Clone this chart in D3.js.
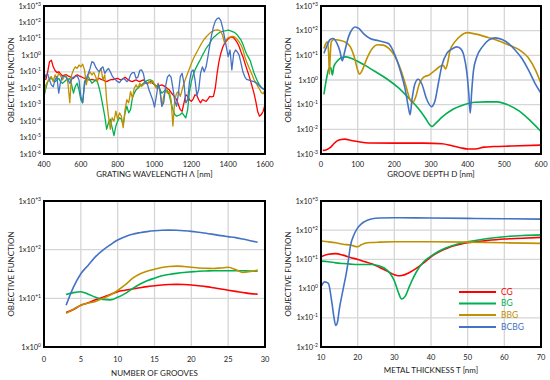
<!DOCTYPE html>
<html>
<head>
<meta charset="utf-8">
<title>Objective function vs grating parameters</title>
<script src="https://d3js.org/d3.v7.min.js"></script>
<style>
  body { margin: 0; background: #fff; }
  svg text { font-family: Lato, "Open Sans", sans-serif; fill: #222; }
</style>
</head>
<body>
<svg id="chart" width="550" height="380"></svg>
<script>
// ---- panel (a): grating wavelength, 400..1600 nm every 10 nm
var wavelength = d3.range(400, 1601, 10);
var wlCG = [0.032,0.034,0.1,0.41,0.51,0.2,0.12,0.09,0.1,0.075,
  0.057,0.062,0.068,0.057,0.051,0.045,0.04,0.057,0.065,0.057,
  0.051,0.045,0.04,0.034,0.032,0.032,0.034,0.032,0.029,0.034,
  0.04,0.034,0.032,0.028,0.025,0.029,0.032,0.034,0.034,0.038,
  0.04,0.034,0.032,0.038,0.047,0.038,0.032,0.027,0.025,0.029,
  0.032,0.028,0.025,0.029,0.032,0.024,0.02,0.022,0.025,0.02,
  0.016,0.014,0.013,0.015,0.016,0.014,0.012,0.0095,0.008,0.0055,
  0.004,0.003,0.002,0.001,5e-4,4e-4,0.0013,0.004,0.0032,0.002,
  0.0016,0.0022,0.004,0.0036,0.002,0.0013,0.002,0.0018,0.0016,0.0022,
  0.0032,0.003,0.0032,0.01,0.081,0.41,1.3,3,5.2,7.5,
  10,12.5,13,11.5,8.3,5.8,3.3,1.6,0.83,0.36,
  0.16,0.075,0.032,0.013,0.005,0.0016,4e-4,2e-4,2.5e-4,4e-4,
  0.001];
var wlBG = [0.0032,0.01,0.025,0.034,0.04,0.032,0.025,0.032,0.04,0.025,
  0.02,0.025,0.032,0.034,0.04,0.016,0.005,0.013,0.02,0.008,
  0.002,0.0013,0.025,0.04,0.051,0.032,0.02,0.025,0.032,0.025,
  0.01,0.0032,8e-4,2e-4,3.2e-5,8e-5,1.3e-4,4e-5,1.3e-5,5e-5,
  1e-4,1.6e-4,1.3e-4,6e-5,3.2e-4,8e-4,3.2e-4,5e-4,0.0025,0.005,
  0.008,0.01,0.013,0.016,0.02,0.025,0.029,0.032,0.032,0.022,
  0.016,0.014,0.012,0.008,0.005,0.0063,0.008,0.0071,0.004,0.0013,
  5e-4,2.5e-4,2e-4,2.2e-4,2.5e-4,3.2e-4,2.2e-4,1.6e-4,5e-4,0.0063,
  0.025,0.065,0.13,0.22,0.36,0.58,1.0,1.6,2.6,3.8,
  5.2,9,12,15,19,23,27,29,31,32,
  34,32,29,26,22,17,12,8.3,4.8,2.3,
  1.2,0.75,0.47,0.2,0.088,0.047,0.025,0.016,0.011,0.009,
  0.01];
var wlBBG = [0.0032,0.016,0.025,0.04,0.051,0.025,0.065,0.04,0.081,0.057,
  0.032,0.051,0.065,0.02,0.0013,0.065,0.13,0.2,0.16,0.26,
  0.2,0.29,0.13,0.016,0.065,0.1,0.065,0.09,0.051,0.025,
  0.1,0.16,0.032,0.065,0.002,2e-4,3.2e-5,1.6e-4,1e-4,4e-4,
  1.3e-4,3.2e-4,2e-4,4e-5,5e-4,0.002,0.0013,0.0063,0.0025,0.01,
  0.016,0.01,0.02,0.013,0.016,0.022,0.018,0.025,0.02,0.029,
  0.016,0.01,0.02,0.0063,8e-4,0.0032,0.008,0.005,0.0063,0.002,
  5e-5,0.002,0.005,0.0063,0.0032,0.008,0.02,0.04,0.081,0.16,
  0.32,0.58,1.0,1.6,2.6,4.2,6.5,9.5,13,17,
  22,27,31,34,35,34,28,16,5.8,9,
  12,13,14,14,12,9,6.5,4.2,2.3,0.83,
  0.41,0.22,0.12,0.065,0.034,0.022,0.014,0.009,0.0055,0.0046,
  0.008];
var wlBCBG = [0.025,0.065,0.075,0.032,0.016,0.012,0.032,0.051,0.005,0.025,
  0.051,0.057,0.047,0.032,0.02,0.034,0.047,0.051,0.057,0.032,
  0.0032,0.0013,0.016,0.04,0.075,0.16,0.41,0.36,0.2,0.13,
  0.1,0.16,0.2,0.081,0.12,0.16,0.1,0.057,0.04,0.032,
  0.025,0.022,0.032,0.04,0.034,0.025,0.032,0.065,0.09,0.09,
  0.04,0.047,0.12,0.13,0.075,0.02,0.02,0.008,0.004,0.002,
  7e-4,0.0032,0.018,0.008,8e-4,0.0013,0.013,0.047,0.065,0.047,
  0.01,0.0016,8e-4,0.005,0.051,0.081,0.02,0.0013,0.002,0.025,
  0.1,0.13,0.032,0.0036,0.008,0.081,0.2,0.1,0.2,0.83,
  4.2,17,54,120,170,190,130,48,13,3.3,
  0.83,2.1,0.13,1.3,2.1,1.6,1.0,0.32,0.1,0.051,
  0.034,0.032,0.029,0.027,0.025,0.022,0.018,0.014,0.011,0.009,
  0.008];

// ---- panel (b): groove depth D [nm]
var depthCG = [5,15,25,35,45,55,65,80,100,130,200,280,330,355,380,400,420,445,470,520,600];
var valDepthCG = [1.4e-3,1.5e-3,1.8e-3,2.6e-3,3.5e-3,3.9e-3,4.0e-3,3.6e-3,3.2e-3,2.8e-3,2.75e-3,2.75e-3,2.6e-3,2.2e-3,1.8e-3,1.6e-3,1.6e-3,1.9e-3,2.0e-3,2.1e-3,2.3e-3];
var depthBG = [8,12,17,22,27,31,35,45,55,68,90,120,150,180,210,240,265,285,297,303,312,330,360,390,420,450,480,510,540,570,600];
var valDepthBG = [0.26,0.63,1.6,3.0,3.1,1.6,3.5,6,8,8.7,6.8,3.9,2.1,1.1,0.5,0.18,0.071,0.028,0.015,0.013,0.017,0.031,0.065,0.1,0.126,0.13,0.13,0.098,0.056,0.023,0.0081];
var depthBBG = [8,13,18,21,23,25,28,35,50,65,80,92,100,105,112,125,140,155,170,185,200,218,232,243,250,258,268,280,295,310,325,333,340,345,352,365,380,398,420,450,480,510,540,565,585,600];
var valDepthBBG = [19,30,35,10,1.7,8.7,35,44,41,35,22,7.4,2.5,1.7,2.4,7.4,19,27,26,19,10,2.5,0.54,0.155,0.12,0.2,0.69,1.3,1.6,2.4,3.6,3.9,2.8,4.7,16,35,60,83,74,56,41,27,17,8.1,2.5,0.72];
var depthBCBG = [8,15,25,33,43,52,58,65,75,86,94,104,116,134,157,184,202,216,230,238,243,248,256,265,275,288,301,311,320,330,343,357,370,380,390,398,403,407,411,416,425,440,457,475,494,512,530,548,566,584,600];
var valDepthBCBG = [12,22,44,48,32,14,6,15,56,120,141,120,76,48,39,30,10,2.5,0.39,0.083,0.039,0.155,0.69,1.07,0.69,0.17,0.083,0.145,0.72,4,12,18,22,19,9.3,1.9,0.29,0.045,0.34,2.5,8.7,22,41,51,44,30,16,7.4,2.5,0.72,0.29];

// ---- panel (c): number of grooves
var grooves = [3,4,5,6,7,8,9,10,11,12,13,14,15,16,17,18,19,20,21,22,23,24,25,26,27,28,29];
var grCG = [5.1,5.9,7.2,8.1,9.3,10.5,12,13.7,14.7,15.6,16.5,17.4,18.1,18.8,19.2,19.4,19.2,18.8,18.1,17.4,16.5,15.6,14.7,13.9,13.2,12.5,12.2];
var grBG = [12,13.1,13.7,12.2,10.5,9.5,9.3,10.5,12.5,15.8,19.4,23,26,29,31,32.6,34,35,36,36.5,37,37,37,37,36.8,36.5,36];
var grBBG = [4.9,6,7.2,8,8.6,10,11.7,14.5,18.8,25.6,31.6,36,39.5,43,45,46,45,43.5,42,41.5,41,42,43.5,39,34,35.5,38];
var grBCBG = [7.2,17,32,48,72,98,126,158,185,208,223,235,244,250,252,250,245,238,228,218,206,194,185,177,165,153,142];

// ---- panel (d): metal thickness T [nm]
var thickCG = [10,12,14,16,18,20,22,24,26,28,30,31,32,34,36,38,40,42,44,46,48,50,55,60,65,70];
var valThickCG = [12.3,15,15.8,14,11.7,10,8.3,6.9,5.3,4,3,2.75,2.8,3.5,4.9,7.6,12.3,17.4,23,29,33,37,44,50,53,57];
var thickBG = [10,12,14,16,18,20,22,24,26,28,29,30,31,32,33,34,35,36,38,40,42,44,46,48,50,55,60,65,70];
var valThickBG = [8.7,8.3,7.6,7.2,6.9,6.7,6.7,6.7,5.9,4.3,3.1,1.85,0.8,0.44,0.55,1.1,2.1,3.7,8.3,12.9,18.6,24.5,30,35.5,40,51,60,66,69];
var thickBBG = [10,12,14,16,18,20,21,22,24,26,30,40,50,60,70];
var valThickBBG = [42.5,40,37,33,31,27,31.6,35.5,38,39,40,40,39,37,35.5];
var thickBCBG = [10,11,12,13,13.5,14,14.5,15,16,17,17.5,18,19,20,21,22,23,24,26,30,40,50,60,70];
var valThickBCBG = [1.15,1.7,1.5,0.31,0.11,0.055,0.072,0.2,0.9,4,10,28,70,120,165,200,229,247,261,268,261,254,247,240];

var seriesNames = ["CG", "BG", "BBG", "BCBG"];
var colors = {CG: "#ff0000", BG: "#00b050", BBG: "#bf9000", BCBG: "#4472c4"};

var svg = d3.select("#chart");

function pairs(xs, ys) {
  return xs.map(function(v, i) { return [v, ys[i]]; });
}

function drawPanel(o) {
  var g = svg.append("g");
  var x = d3.scaleLinear().domain(o.xDomain).range([o.left, o.right]);
  var y = d3.scaleLog()
      .domain([Math.pow(10, o.minExp), Math.pow(10, o.maxExp)])
      .range([o.bottom, o.top]);
  var decades = d3.range(o.minExp, o.maxExp + 1);

  // grid
  g.append("g").selectAll("line")
    .data(o.xTicks.slice(1, -1))
    .enter().append("line")
      .attr("x1", function(d) { return x(d); })
      .attr("x2", function(d) { return x(d); })
      .attr("y1", o.top).attr("y2", o.bottom)
      .attr("stroke", "#d6d6d6").attr("stroke-width", 1.3);
  g.append("g").selectAll("line")
    .data(decades.slice(1, -1))
    .enter().append("line")
      .attr("x1", o.left).attr("x2", o.right)
      .attr("y1", function(d) { return y(Math.pow(10, d)); })
      .attr("y2", function(d) { return y(Math.pow(10, d)); })
      .attr("stroke", "#d6d6d6").attr("stroke-width", 1.3);

  // clip
  var clipId = "clip" + o.id;
  svg.append("clipPath").attr("id", clipId)
    .append("rect")
      .attr("x", o.left).attr("y", o.top)
      .attr("width", o.right - o.left).attr("height", o.bottom - o.top);

  var line = d3.line()
      .x(function(d) { return x(d[0]); })
      .y(function(d) { return y(d[1]); })
      .curve(o.curve);

  g.append("g")
      .attr("clip-path", "url(#" + clipId + ")")
    .selectAll("path")
    .data(o.series)
    .enter().append("path")
      .attr("d", function(d) { return line(d.values); })
      .attr("fill", "none")
      .attr("stroke", function(d) { return colors[d.name]; })
      .attr("stroke-width", o.lineWidth)
      .attr("stroke-linejoin", "round");

  // frame
  g.append("rect")
      .attr("x", o.left).attr("y", o.top)
      .attr("width", o.right - o.left).attr("height", o.bottom - o.top)
      .attr("fill", "none").attr("stroke", "#000").attr("stroke-width", 2);

  // y tick labels 1x10^n
  var yl = g.append("g").selectAll("text")
    .data(decades)
    .enter().append("text")
      .attr("x", o.left - 3)
      .attr("y", function(d) { return y(Math.pow(10, d)) + 2.5; })
      .attr("text-anchor", "end")
      .attr("font-size", 7.5);
  yl.append("tspan").text("1x10");
  yl.append("tspan")
      .attr("dy", -3)
      .attr("font-size", 5)
      .text(function(d) { return d > 0 ? "+" + d : (d < 0 ? "-" + (-d) : "0"); });

  // x tick labels
  g.append("g").selectAll("text")
    .data(o.xTicks)
    .enter().append("text")
      .attr("x", function(d) { return x(d); })
      .attr("y", o.bottom + o.tickGap)
      .attr("text-anchor", "middle")
      .attr("font-size", 7.5)
      .text(function(d) { return d; });

  // titles
  g.append("text")
      .attr("x", (o.left + o.right) / 2)
      .attr("y", o.bottom + o.titleGap)
      .attr("text-anchor", "middle")
      .attr("font-size", 8)
      .text(o.xTitle);
  g.append("text")
      .attr("transform", "translate(" + (o.left - 33) + "," + ((o.top + o.bottom) / 2) + ") rotate(-90)")
      .attr("text-anchor", "middle")
      .attr("dy", "0.35em")
      .attr("font-size", 8)
      .text("OBJECTIVE FUNCTION");

  return {x: x, y: y, g: g};
}

drawPanel({
  id: "a", left: 44, right: 265, top: 6, bottom: 154,
  xDomain: [400, 1600], xTicks: [400, 600, 800, 1000, 1200, 1400, 1600],
  minExp: -6, maxExp: 3, tickGap: 13, titleGap: 23,
  xTitle: "GRATING WAVELENGTH \u039b [nm]",
  curve: d3.curveLinear, lineWidth: 1.3,
  series: [
    {name: "CG", values: pairs(wavelength, wlCG)},
    {name: "BG", values: pairs(wavelength, wlBG)},
    {name: "BBG", values: pairs(wavelength, wlBBG)},
    {name: "BCBG", values: pairs(wavelength, wlBCBG)}
  ]
});

drawPanel({
  id: "b", left: 321, right: 541, top: 6, bottom: 154,
  xDomain: [0, 600], xTicks: [0, 100, 200, 300, 400, 500, 600],
  minExp: -3, maxExp: 3, tickGap: 13, titleGap: 23,
  xTitle: "GROOVE DEPTH D [nm]",
  curve: d3.curveMonotoneX, lineWidth: 1.6,
  series: [
    {name: "CG", values: pairs(depthCG, valDepthCG)},
    {name: "BG", values: pairs(depthBG, valDepthBG)},
    {name: "BBG", values: pairs(depthBBG, valDepthBBG)},
    {name: "BCBG", values: pairs(depthBCBG, valDepthBCBG)}
  ]
});

drawPanel({
  id: "c", left: 44, right: 265, top: 201, bottom: 347,
  xDomain: [0, 30], xTicks: [0, 5, 10, 15, 20, 25, 30],
  minExp: 0, maxExp: 3, tickGap: 15, titleGap: 29,
  xTitle: "NUMBER OF GROOVES",
  curve: d3.curveMonotoneX, lineWidth: 1.6,
  series: [
    {name: "CG", values: pairs(grooves, grCG)},
    {name: "BG", values: pairs(grooves, grBG)},
    {name: "BBG", values: pairs(grooves, grBBG)},
    {name: "BCBG", values: pairs(grooves, grBCBG)}
  ]
});

drawPanel({
  id: "d", left: 321, right: 541, top: 201, bottom: 347,
  xDomain: [10, 70], xTicks: [10, 20, 30, 40, 50, 60, 70],
  minExp: -2, maxExp: 3, tickGap: 12.5, titleGap: 26,
  xTitle: "METAL THICKNESS T [nm]",
  curve: d3.curveMonotoneX, lineWidth: 1.6,
  series: [
    {name: "CG", values: pairs(thickCG, valThickCG)},
    {name: "BG", values: pairs(thickBG, valThickBG)},
    {name: "BBG", values: pairs(thickBBG, valThickBBG)},
    {name: "BCBG", values: pairs(thickBCBG, valThickBCBG)}
  ]
});

// legend (inside panel d)
var legend = svg.append("g")
  .selectAll("g")
  .data(seriesNames)
  .enter().append("g")
    .attr("transform", function(d, i) { return "translate(0," + [292, 303.5, 315, 327][i] + ")"; });

legend.append("line")
    .attr("x1", 459).attr("x2", 496)
    .attr("stroke", function(d) { return colors[d]; })
    .attr("stroke-width", 1.8);

legend.append("text")
    .attr("x", 501)
    .attr("dy", "0.35em")
    .attr("font-size", 8.5)
    .style("fill", function(d) { return colors[d]; })
    .text(function(d) { return d; });
</script>
</body>
</html>
